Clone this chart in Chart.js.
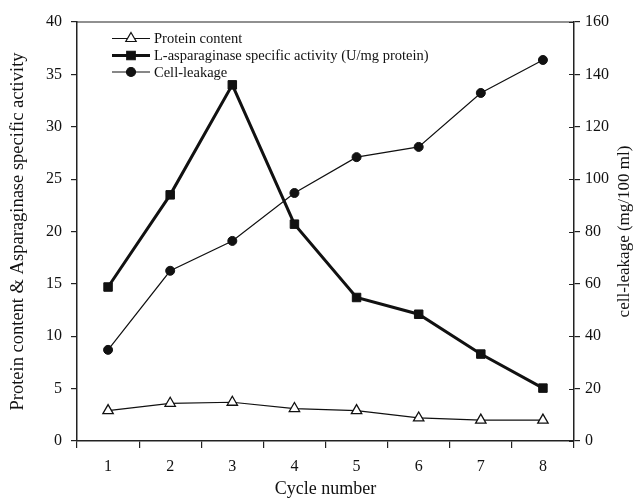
<!DOCTYPE html>
<html lang="en">
<head>
    <meta charset="UTF-8">
    <title>Cycle number chart</title>
    <script src="https://cdn.jsdelivr.net/npm/chart.js"></script>
    <style>
        body {
            margin: 0;
            background-color: #fff;
        }
        .chart-container {
            position: relative;
            width: 634px;
            height: 500px;
        }
    </style>
</head>
<body>
    <div class="chart-container">
        <canvas id="cycleChart"></canvas>
    </div>
    <script>
        const cycles = ['1', '2', '3', '4', '5', '6', '7', '8'];
        const proteinContent = [2.9, 3.6, 3.7, 3.1, 2.9, 2.2, 2.0, 2.0];
        const specificActivity = [14.7, 23.5, 34.0, 20.7, 13.7, 12.1, 8.3, 5.05];
        const cellLeakage = [34.8, 65, 76.4, 94.7, 108.4, 112.3, 132.9, 145.5];
        const rightTitle = 'cell-leakage (mg/100 ml)';

        const serif = "'Liberation Serif', 'DejaVu Serif', serif";

        // legend inside the plot, top frame line, inner ticks and right title
        const extras = {
            id: 'extras',
            afterDraw(chart) {
                const ctx = chart.ctx;
                const a = chart.chartArea;
                const x0 = 112, x1 = 150;
                const rows = [38.5, 55.5, 72];
                ctx.save();
                chart.data.datasets.forEach((ds, i) => {
                    const y = rows[i];
                    ctx.strokeStyle = '#111';
                    ctx.lineWidth = ds.borderWidth;
                    ctx.beginPath();
                    ctx.moveTo(x0, y);
                    ctx.lineTo(x1, y);
                    ctx.stroke();
                    ctx.fillStyle = ds.pointBackgroundColor;
                    ctx.strokeStyle = '#111';
                    ctx.lineWidth = 1.2;
                    Chart.helpers.drawPoint(ctx, {
                        pointStyle: ds.pointStyle,
                        radius: ds.pointRadius,
                        borderWidth: 1.2,
                        rotation: 0
                    }, (x0 + x1) / 2, y);
                    ctx.fillStyle = '#111';
                    ctx.font = '14.5px ' + serif;
                    ctx.textBaseline = 'middle';
                    ctx.textAlign = 'left';
                    ctx.fillText(ds.label, x1 + 4, y + 1);
                });

                ctx.strokeStyle = '#222';
                ctx.lineWidth = 1.2;
                ctx.beginPath();
                ctx.moveTo(a.left, a.top);
                ctx.lineTo(a.right, a.top);
                ctx.stroke();

                // right axis ticks cross the axis line
                const y1 = chart.scales.y1;
                ctx.beginPath();
                y1.ticks.forEach(t => {
                    const py = Math.round(y1.getPixelForValue(t.value)) + 0.5;
                    ctx.moveTo(a.right - 5, py);
                    ctx.lineTo(a.right, py);
                });
                ctx.stroke();

                ctx.translate(625, (a.top + a.bottom) / 2);
                ctx.rotate(-Math.PI / 2);
                ctx.fillStyle = '#111';
                ctx.font = '17px ' + serif;
                ctx.textAlign = 'center';
                ctx.textBaseline = 'middle';
                ctx.fillText(rightTitle, 0, 0);
                ctx.restore();
            }
        };

        const ctx = document.getElementById('cycleChart').getContext('2d');
        new Chart(ctx, {
            type: 'line',
            data: {
                labels: cycles,
                datasets: [{
                    label: 'Protein content',
                    data: proteinContent,
                    yAxisID: 'y',
                    borderColor: '#111',
                    borderWidth: 1.2,
                    pointStyle: 'triangle',
                    pointRadius: 6,
                    pointBackgroundColor: '#fff',
                    pointBorderColor: '#111',
                    pointBorderWidth: 1.3
                }, {
                    label: 'L-asparaginase specific activity (U/mg protein)',
                    data: specificActivity,
                    yAxisID: 'y',
                    borderColor: '#111',
                    borderWidth: 3,
                    pointStyle: 'rect',
                    pointRadius: 6,
                    pointBackgroundColor: '#111',
                    pointBorderColor: '#111',
                    pointBorderWidth: 1
                }, {
                    label: 'Cell-leakage',
                    data: cellLeakage,
                    yAxisID: 'y1',
                    borderColor: '#111',
                    borderWidth: 1.2,
                    pointStyle: 'circle',
                    pointRadius: 4.5,
                    pointBackgroundColor: '#111',
                    pointBorderColor: '#111',
                    pointBorderWidth: 1
                }]
            },
            options: {
                responsive: true,
                maintainAspectRatio: false,
                animation: false,
                layout: { padding: { top: 22, left: 0, right: 0, bottom: 0 } },
                plugins: {
                    legend: { display: false },
                    tooltip: { enabled: false }
                },
                scales: {
                    x: {
                        offset: true,
                        grid: {
                            offset: true,
                            drawOnChartArea: false,
                            tickLength: 7,
                            color: '#222',
                            lineWidth: 1.2
                        },
                        border: { color: '#222', width: 1.5 },
                        ticks: {
                            color: '#111',
                            font: { family: serif, size: 16 },
                            maxRotation: 0,
                            padding: 9
                        },
                        title: {
                            display: true,
                            text: 'Cycle number',
                            color: '#111',
                            font: { family: serif, size: 18 },
                            padding: { top: 2, bottom: 0 }
                        },
                        afterFit(scale) { scale.height = 59; }
                    },
                    y: {
                        position: 'left',
                        min: 0,
                        max: 40,
                        ticks: {
                            stepSize: 5,
                            color: '#111',
                            font: { family: serif, size: 16 },
                            padding: 9
                        },
                        grid: {
                            drawOnChartArea: false,
                            tickLength: 6,
                            color: '#222',
                            lineWidth: 1.2
                        },
                        border: { color: '#222', width: 1.5 },
                        title: {
                            display: true,
                            text: 'Protein content & Asparaginase specific activity',
                            color: '#111',
                            font: { family: serif, size: 18.5 },
                            padding: { top: 7, bottom: 0 }
                        },
                        afterFit(scale) { scale.width = 77; }
                    },
                    y1: {
                        position: 'right',
                        min: 0,
                        max: 160,
                        ticks: {
                            stepSize: 20,
                            color: '#111',
                            font: { family: serif, size: 16 },
                            padding: 5
                        },
                        grid: {
                            drawOnChartArea: false,
                            tickLength: 6,
                            color: '#222',
                            lineWidth: 1.2
                        },
                        border: { color: '#222', width: 1.5 },
                        afterFit(scale) { scale.width = 60; }
                    }
                }
            },
            plugins: [extras]
        });
    </script>
</body>
</html>
